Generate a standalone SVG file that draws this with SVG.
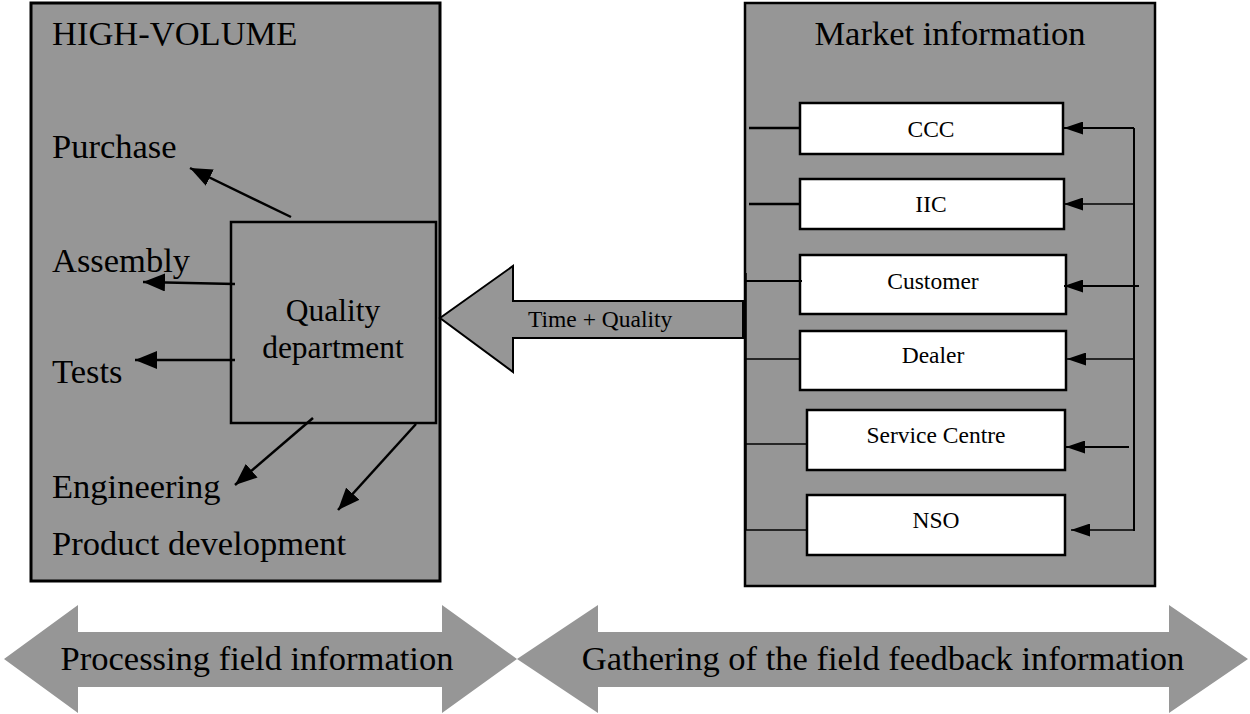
<svg xmlns="http://www.w3.org/2000/svg" width="1250" height="714" viewBox="0 0 1250 714">
<style>
text{font-family:"Liberation Serif","Times New Roman",serif;fill:#000}
.big{font-size:34.5px}
.mid{font-size:31.5px}
.sm{font-size:23.5px}
.panel{fill:#969696;stroke:#000}
.box{fill:#fff;stroke:#000;stroke-width:2.5}
.ln{stroke:#000;fill:none}
</style>
<defs>
<marker id="ah" markerUnits="userSpaceOnUse" markerWidth="22" markerHeight="18" refX="22" refY="9" orient="auto"><path d="M0,0 L22,9 L0,18 z" fill="#000"/></marker>
<marker id="as" markerUnits="userSpaceOnUse" markerWidth="19" markerHeight="13" refX="19" refY="6.5" orient="auto"><path d="M0,0 L19,6.5 L0,13 z" fill="#000"/></marker>
</defs>
<g id="high-volume">
<rect class="panel" x="31" y="3" width="409" height="578" stroke-width="3"/>
<text class="big" x="52" y="45">HIGH-VOLUME</text>
<text class="big" x="52" y="158">Purchase</text>
<text class="big" x="52" y="272">Assembly</text>
<text class="big" x="52" y="383">Tests</text>
<text class="big" x="52" y="498">Engineering</text>
<text class="big" x="52" y="555">Product development</text>
</g>
<g id="quality-department">
<rect class="panel" x="231" y="222" width="205" height="201" stroke-width="2.5"/>
<text class="mid" x="333" y="321" text-anchor="middle">Quality</text>
<text class="mid" x="333" y="358" text-anchor="middle">department</text>
</g>
<g id="time-quality">
<polygon points="440,318 513,266 513,301 743,301 743,338 513,338 513,372" fill="#969696" stroke="#000" stroke-width="2"/>
<text class="sm" x="528" y="327">Time + Quality</text>
</g>
<g id="market-information">
<rect class="panel" x="745" y="3" width="410" height="583" stroke-width="2.5"/>
<text class="big" x="950" y="45" text-anchor="middle">Market information</text>
</g>
<g id="ccc"><rect class="box" x="800" y="103" width="263" height="51"/><text class="sm" x="931" y="137" text-anchor="middle">CCC</text></g>
<g id="iic"><rect class="box" x="800" y="179" width="264" height="50"/><text class="sm" x="931" y="212" text-anchor="middle">IIC</text></g>
<g id="customer"><rect class="box" x="800" y="255" width="266" height="59"/><text class="sm" x="933" y="289" text-anchor="middle">Customer</text></g>
<g id="dealer"><rect class="box" x="800" y="331" width="266" height="59"/><text class="sm" x="933" y="363" text-anchor="middle">Dealer</text></g>
<g id="service-centre"><rect class="box" x="807" y="410" width="258" height="60"/><text class="sm" x="936" y="443" text-anchor="middle">Service Centre</text></g>
<g id="nso"><rect class="box" x="807" y="495" width="258" height="60"/><text class="sm" x="936" y="528" text-anchor="middle">NSO</text></g>
<g id="connectors">
<line class="ln" stroke-width="2.5" x1="291" y1="217" x2="190" y2="168" marker-end="url(#ah)"/>
<line class="ln" stroke-width="2.5" x1="235" y1="284" x2="143" y2="282" marker-end="url(#ah)"/>
<line class="ln" stroke-width="2.5" x1="235" y1="360" x2="135" y2="360" marker-end="url(#ah)"/>
<line class="ln" stroke-width="2.5" x1="313" y1="418" x2="235" y2="485" marker-end="url(#ah)"/>
<line class="ln" stroke-width="2.5" x1="416" y1="424" x2="338" y2="510" marker-end="url(#ah)"/>
<line class="ln" stroke-width="2.5" x1="749" y1="128" x2="800" y2="128"/>
<line class="ln" stroke-width="2.5" x1="749" y1="204" x2="800" y2="204"/>
<line class="ln" stroke-width="1.5" x1="746" y1="273" x2="746" y2="530"/>
<line class="ln" stroke-width="2" x1="746" y1="281" x2="802" y2="281"/>
<line class="ln" stroke-width="1.5" x1="746" y1="359" x2="800" y2="359"/>
<line class="ln" stroke-width="1.5" x1="746" y1="444" x2="807" y2="444"/>
<line class="ln" stroke-width="1.5" x1="746" y1="530" x2="807" y2="530"/>
<line class="ln" stroke-width="2" x1="1134" y1="128" x2="1134" y2="531"/>
<line class="ln" stroke-width="2" x1="1134" y1="128" x2="1064" y2="128" marker-end="url(#as)"/>
<line class="ln" stroke-width="1.5" x1="1134" y1="204" x2="1064" y2="204" marker-end="url(#as)"/>
<line class="ln" stroke-width="2" x1="1139" y1="286" x2="1064" y2="286" marker-end="url(#as)"/>
<line class="ln" stroke-width="1.5" x1="1134" y1="359" x2="1067" y2="359" marker-end="url(#as)"/>
<line class="ln" stroke-width="2" x1="1129" y1="447" x2="1066" y2="447" marker-end="url(#as)"/>
<line class="ln" stroke-width="1.5" x1="1134" y1="530" x2="1071" y2="530" marker-end="url(#as)"/>
</g>
<g id="processing-arrow">
<polygon points="4,659 78,605 78,632 442,632 442,605 517,659 442,713 442,687 78,687 78,713" fill="#969696"/>
<text class="big" x="257" y="670" text-anchor="middle">Processing field information</text>
</g>
<g id="gathering-arrow">
<polygon points="517,659 598,605 598,632 1169,632 1169,605 1248,659 1169,713 1169,687 598,687 598,713" fill="#969696"/>
<text class="big" x="883" y="670" text-anchor="middle">Gathering of the field feedback information</text>
</g>
</svg>
